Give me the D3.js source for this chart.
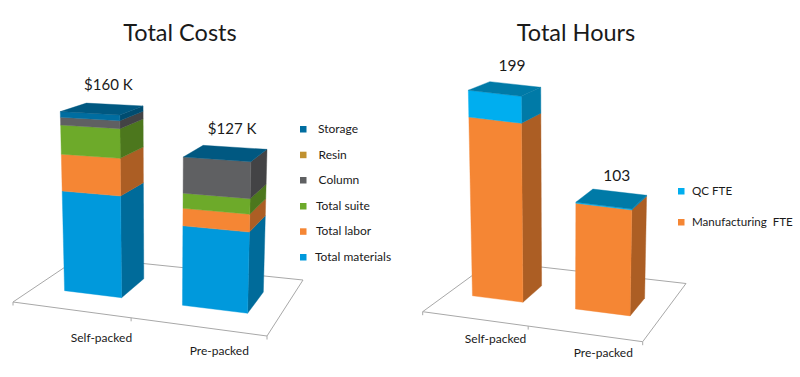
<!DOCTYPE html>
<html><head><meta charset="utf-8">
<script src="https://cdnjs.cloudflare.com/ajax/libs/d3/7.8.5/d3.min.js"></script>
<style>html,body{margin:0;padding:0;background:#fff}svg{display:block}text{font-family:Lato,"Open Sans",sans-serif;fill:#1a1a1a;white-space:pre}</style>
</head><body><svg id="c" width="800" height="377"></svg>
<script>
// ---- data ----
const categories = ["Self-packed", "Pre-packed"];
const costSeriesNames = ["Total materials", "Total labor", "Total suite", "Column", "Resin", "Storage"];
const totalMaterials = [89, 68];
const totalLabor = [33, 15];
const totalSuite = [26, 13];
const column = [7, 31];
const resin = [0, 0];
const storage = [5, 0];
const costLabels = ["$160 K", "$127 K"];
const hourSeriesNames = ["Manufacturing  FTE", "QC FTE"];
const manufacturingFte = [173, 102];
const qcFte = [26, 1];
const hourLabels = ["199", "103"];
// ---- styles ----
const costColors = ["#0099DC", "#F58634", "#6DAA2A", "#5F6062", "#C0912F", "#006DA0"];
const hourColors = ["#F58634", "#00AEEF"];

const svg = d3.select("#c");

function homography(A, B, C, D) {
  const dx1 = B[0]-C[0], dx2 = D[0]-C[0], sx = A[0]-B[0]+C[0]-D[0];
  const dy1 = B[1]-C[1], dy2 = D[1]-C[1], sy = A[1]-B[1]+C[1]-D[1];
  const det = dx1*dy2-dx2*dy1;
  const g = (sx*dy2-dx2*sy)/det, h = (dx1*sy-sx*dy1)/det;
  const a = B[0]-A[0]+g*B[0], b = D[0]-A[0]+h*D[0], c = A[0];
  const d = B[1]-A[1]+g*B[1], e = D[1]-A[1]+h*D[1], f = A[1];
  return (u, v) => { const w = g*u+h*v+1; return [(a*u+b*v+c)/w, (d*u+e*v+f)/w]; };
}

function drawPanel(p) {
  const g = svg.append("g");
  const floor = homography(...p.corners);
  const u = d3.scaleBand().domain(categories).range(p.uRange).paddingInner(0.5).paddingOuter(0.25);
  const v = d3.scaleLinear().domain([0, 1]).range(p.vRange);
  const keys = p.series.map((_, i) => i);
  const rows = categories.map((c, i) => { const r = {cat: c}; keys.forEach(k => r[k] = p.series[k][i]); return r; });
  const stacked = d3.stack().keys(keys)(rows);

  // projected height: value -> pixels, depending on where on the floor the edge stands
  const lift = (pt, value) => {
    const unit = p.unit + p.unitPerY*(pt[1]-300) + p.unitPerX*(pt[0]-p.xc);
    const h = d3.scaleLinear().domain([0, p.max]).range([0, unit*p.max]);
    return [pt[0] + h(value)*p.lean*(pt[0]-p.xc), pt[1] - h(value)];
  };
  const quad = pts => "M" + pts.map(q => q.map(n => n.toFixed(2)).join(",")).join("L") + "Z";

  // floor frame
  const [A, B, C, D] = p.corners;
  const frameColor = "#a8a8a8";
  g.append("path").attr("d", quad([A, B, C, D])).attr("fill", "none").attr("stroke", frameColor).attr("stroke-width", 1);
  [0, 0.5, 1].forEach(t => {
    const q = floor(t, 0);
    g.append("line").attr("x1", q[0]).attr("y1", q[1]).attr("x2", q[0]).attr("y2", q[1]+3.5).attr("stroke", frameColor);
  });

  categories.forEach((cat, i) => {
    const u0 = u(cat), u1 = u0 + u.bandwidth();
    const fl = floor(u0, v(0)), fr = floor(u1, v(0)), br = floor(u1, v(1)), bl = floor(u0, v(1));
    stacked.forEach((s, k) => {
      const [z0, z1] = s[i];
      if (z1 <= z0) return;
      const col = p.colors[k], dark = d3.color(col).darker(1);
      g.append("path").attr("d", quad([lift(fr, z0), lift(br, z0), lift(br, z1), lift(fr, z1)])).attr("fill", dark).attr("stroke", dark).attr("stroke-width", 0.4);
      g.append("path").attr("d", quad([lift(fl, z0), lift(fr, z0), lift(fr, z1), lift(fl, z1)])).attr("fill", col).attr("stroke", col).attr("stroke-width", 0.4);
    });
    const total = d3.sum(keys, k => p.series[k][i]);
    const tops = [fl, fr, br, bl].map(q => lift(q, total));
    const topCol = d3.color(p.topColor).darker(p.topDark);
    g.append("path").attr("d", quad(tops)).attr("fill", topCol).attr("stroke", topCol).attr("stroke-width", 0.4);
    const mid = [d3.mean(tops, q => q[0]), d3.mean(tops, q => q[1])];
    g.append("text").attr("x", mid[0] + p.labelOffsets[i][0]).attr("y", mid[1] + p.labelOffsets[i][1])
      .attr("text-anchor", "middle").attr("font-size", p.labelSize).text(p.labels[i]);
    const base = floor((u0+u1)/2, 0);
    g.append("text").attr("x", base[0] + p.catOffsets[i][0]).attr("y", base[1] + p.catOffsets[i][1])
      .attr("text-anchor", "middle").attr("font-size", 12).text(cat);
  });

  g.append("text").attr("x", p.titleX).attr("y", 41).attr("text-anchor", "middle").attr("font-size", 23.5).text(p.title);

  p.legend.forEach((l) => {
    const k = p.names.indexOf(l.name);
    g.append("rect").attr("x", p.legendX-3).attr("y", l.y-3).attr("width", 6.5).attr("height", 6.5).attr("fill", p.colors[k]);
    g.append("text").attr("x", l.tx).attr("y", l.y+4).attr("font-size", p.legendSize).text(l.name);
  });
}

drawPanel({
  title: "Total Costs", titleX: 180,
  corners: [[13,302],[267,336],[303,280],[80,257]],
  uRange: [0.01,1.01], vRange: [0.30,0.69],
  unit: 1.15, unitPerY: 0.0033, unitPerX: 0, lean: 0.00025, xc: 160, max: 200,
  series: [totalMaterials,totalLabor,totalSuite,column,resin,storage],
  names: costSeriesNames, colors: costColors, topColor: "#006DA0", topDark: 0.6,
  labels: costLabels, labelSize: 15, labelOffsets: [[6,-19],[6,-19]],
  catOffsets: [[29,32],[20,28]],
  legendX: 303, legendSize: 12,
  legend: [
    {name:"Storage", y:129, tx:318},
    {name:"Resin", y:154.7, tx:318.5},
    {name:"Column", y:180, tx:318.5},
    {name:"Total suite", y:206, tx:316},
    {name:"Total labor", y:231.3, tx:316},
    {name:"Total materials", y:257, tx:315}
  ]
});
drawPanel({
  title: "Total Hours", titleX: 576,
  corners: [[422.7,311.7],[642.7,341.7],[686,283.5],[491.6,261.4]],
  uRange: [-0.004,0.996], vRange: [0.345,0.655],
  unit: 1.022, unitPerY: 0.002, unitPerX: -0.00022, lean: 0.00023, xc: 560, max: 220,
  series: [manufacturingFte,qcFte],
  names: hourSeriesNames, colors: hourColors, topColor: "#00AEEF", topDark: 1,
  labels: hourLabels, labelSize: 15.5, labelOffsets: [[7,-18],[5,-18]],
  catOffsets: [[22,24],[20,23]],
  legendX: 681, legendSize: 11.6,
  legend: [
    {name:"QC FTE", y:191, tx:692},
    {name:"Manufacturing  FTE", y:222, tx:692}
  ]
});
</script></body></html>
